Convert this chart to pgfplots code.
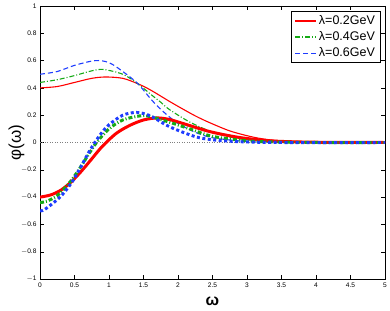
\documentclass[border=0pt]{standalone}
\usepackage{fontspec}
\setmainfont{Liberation Sans}
\usepackage{pgfplots}
\pgfplotsset{compat=1.18}
\definecolor{mred}{RGB}{255,0,0}
\definecolor{mgreen}{RGB}{20,170,20}
\definecolor{mblue}{RGB}{30,60,255}
\begin{document}
\begin{tikzpicture}
\useasboundingbox (-40bp,-32bp) rectangle (350bp,279bp);
\begin{axis}[
  scale only axis, width=345bp, height=273bp,
  xmin=0, xmax=5, ymin=-1, ymax=1,
  xtick={0,0.5,...,5}, ytick={-1,-0.8,...,1},
  xticklabels={0,0.5,1,1.5,2,2.5,3,3.5,4,4.5,5},
  yticklabels={$-$1,$-$0.8,$-$0.6,$-$0.4,$-$0.2,0,0.2,0.4,0.6,0.8,1},
  tick align=inside, major tick length=4bp,
  tick style={black, line width=0.4pt},
  axis line style={line width=0.5pt},
  ticklabel style={font=\fontsize{6.6bp}{7bp}\selectfont},
  /pgf/number format/assume math mode=true,
  xlabel={\bfseries ω}, xlabel style={font=\fontsize{16bp}{16bp}\selectfont, at={(axis description cs:0.5,0)}, anchor=north, yshift=-14bp},
  ylabel={φ(ω)}, ylabel style={font=\fontsize{17bp}{17bp}\selectfont, at={(axis description cs:-0.068,0.5)}, anchor=center},
  legend style={at={(axis cs:4.93,0.96)}, anchor=north east, draw=black, line width=0.5pt, font=\fontsize{12.5bp}{14bp}\selectfont, row sep=1.5bp, inner xsep=3bp, inner ysep=2bp},
  legend cell align=left,
  legend image code/.code={\draw[#1] (0cm,0cm) -- (0.75cm,0cm);},
]
\addplot[gray, dotted, line width=0.5pt, forget plot] coordinates {(0,0) (5,0)};
% thin curves
\addplot[mred, line width=1.1pt, smooth] coordinates {
(0,0.40) (0.25,0.41) (0.5,0.44) (0.75,0.47) (0.95,0.48) (1.2,0.47) (1.42,0.43) (1.6,0.385) (1.88,0.30) (2.0,0.265) (2.25,0.195) (2.46,0.145) (2.75,0.085) (3.04,0.045) (3.25,0.025) (3.5,0.012) (4,0.003) (4.5,0.0) (5,0)};
\addlegendentry{λ=0.2GeV}
\addplot[mgreen, line width=1.1pt, smooth, dash pattern=on 5bp off 2bp on 1bp off 2bp] coordinates {
(0,0.44) (0.25,0.46) (0.5,0.49) (0.75,0.525) (0.92,0.535) (1.2,0.50) (1.42,0.43) (1.6,0.355) (1.75,0.295) (1.88,0.24) (2.17,0.15) (2.5,0.075) (2.75,0.04) (3,0.02) (3.5,0.005) (4,0.001) (5,0)};
\addlegendentry{λ=0.4GeV}
\addplot[mblue, line width=1.1pt, smooth, dash pattern=on 5bp off 3bp] coordinates {
(0,0.50) (0.25,0.52) (0.5,0.565) (0.8,0.60) (1.0,0.585) (1.2,0.52) (1.42,0.43) (1.62,0.31) (1.8,0.22) (2.0,0.14) (2.25,0.075) (2.5,0.035) (3,0.007) (3.5,0.001) (5,0)};
\addlegendentry{λ=0.6GeV}
% thick curves
\addplot[mred, line width=3pt, smooth, forget plot] coordinates {
(0,-0.40) (0.15,-0.385) (0.3,-0.35) (0.45,-0.29) (0.6,-0.21) (0.75,-0.12) (0.9,-0.03) (1.1,0.065) (1.3,0.125) (1.5,0.165) (1.7,0.18) (1.88,0.168) (2.1,0.135) (2.46,0.08) (2.85,0.04) (3.2,0.018) (3.5,0.008) (4,0.002) (5,0)};
\addplot[mgreen, line width=3pt, smooth, forget plot, dash pattern=on 4bp off 2bp on 1bp off 2bp] coordinates {
(0,-0.44) (0.1,-0.43) (0.26,-0.385) (0.45,-0.28) (0.6,-0.17) (0.7,-0.09) (0.82,0) (1.0,0.1) (1.2,0.165) (1.45,0.195) (1.6,0.19) (1.93,0.14) (2.17,0.1) (2.5,0.045) (3,0.012) (3.5,0.003) (4,0.0) (5,0)};
\addplot[mblue, line width=3pt, smooth, forget plot, dash pattern=on 3bp off 2.5bp] coordinates {
(0,-0.50) (0.07,-0.49) (0.29,-0.40) (0.45,-0.30) (0.58,-0.19) (0.72,-0.06) (0.87,0.055) (1.0,0.13) (1.2,0.2) (1.4,0.22) (1.6,0.195) (1.88,0.115) (2.27,0.04) (2.6,0.015) (3,0.004) (3.5,0.0) (5,0)};
\end{axis}
\end{tikzpicture}
\end{document}
